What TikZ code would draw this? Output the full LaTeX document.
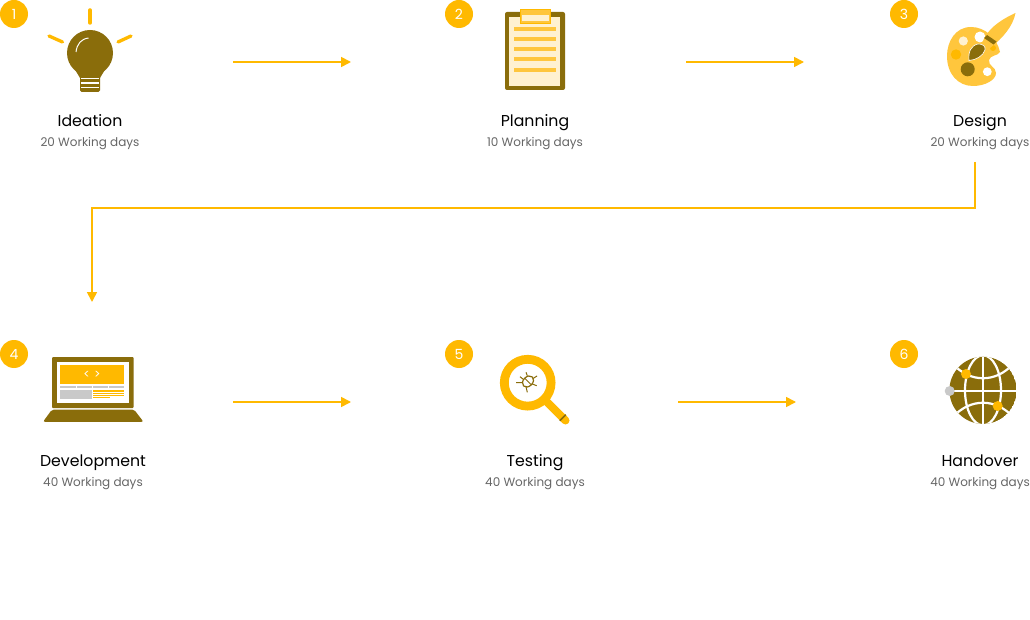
\documentclass[tikz,border=0pt]{standalone}
\usepackage{fontspec}
\setmainfont{Poppins}
\usetikzlibrary{arrows.meta}
\definecolor{amber}{HTML}{FFB900}
\definecolor{brownish}{HTML}{8A6D0B}
\definecolor{paleamber}{HTML}{FFC63D}
\definecolor{cream}{HTML}{FFF1D0}
\definecolor{subgrey}{HTML}{666666}
\definecolor{lgrey}{HTML}{C9C9C9}
\tikzset{
 badge/.style={circle,fill=amber,minimum size=28pt,inner sep=0pt,text=white,font=\fontsize{14}{14}\selectfont},
 titlelabel/.style={inner sep=0pt,anchor=base,text=black,font=\fontsize{15.75}{16}\selectfont},
 sublabel/.style={inner sep=0pt,anchor=base,text=subgrey,font=\fontsize{12}{12}\selectfont},
 flow/.style={amber,line width=1.7pt,-{Triangle[length=10pt,width=10pt]}},
}
\begin{document}
\begin{tikzpicture}[x=1pt,y=-1pt]
\useasboundingbox (0,0) rectangle (1030,620);
\fill[white] (0,0) rectangle (1030,620);
% badges
\node[badge] (b1) at (14,14) {1};
\node[badge] (b2) at (459,14) {2};
\node[badge] (b3) at (904,14) {3};
\node[badge] (b4) at (14,354) {4};
\node[badge] (b5) at (459,354) {5};
\node[badge] (b6) at (904,354) {6};
% labels
\node[titlelabel] (t1) at (90,126.6) {Ideation};
\node[sublabel] (s1) at (90,146.5) {20 Working days};
\node[titlelabel] (t2) at (535,126.6) {Planning};
\node[sublabel] (s2) at (535,146.5) {10 Working days};
\node[titlelabel] (t3) at (980,126.6) {Design};
\node[sublabel] (s3) at (980,146.5) {20 Working days};
\node[titlelabel] (t4) at (93,466) {Development};
\node[sublabel] (s4) at (93,486) {40 Working days};
\node[titlelabel] (t5) at (535,466) {Testing};
\node[sublabel] (s5) at (535,486) {40 Working days};
\node[titlelabel] (t6) at (980,466) {Handover};
\node[sublabel] (s6) at (980,486) {40 Working days};
% connectors
\coordinate (a1s) at (233,62); \coordinate (a1e) at (351,62);
\coordinate (a2s) at (686,62); \coordinate (a2e) at (804,62);
\coordinate (a4s) at (233,402); \coordinate (a4e) at (351,402);
\coordinate (a5s) at (678,402); \coordinate (a5e) at (796,402);
\coordinate (d0) at (975,162); \coordinate (d1) at (975,208); \coordinate (d2) at (92,208); \coordinate (d3) at (92,302);
\draw[flow] (a1s) -- (a1e);
\draw[flow] (a2s) -- (a2e);
\draw[flow] (a4s) -- (a4e);
\draw[flow] (a5s) -- (a5e);
\draw[flow] (d0) -- (d1) -- (d2) -- (d3);
% bulb
\draw[amber,line width=3.5pt,line cap=round] (90,10) -- (90,23);
\draw[amber,line width=3.3pt,line cap=round] (49,36) -- (62.5,42);
\draw[amber,line width=3.3pt,line cap=round] (118,42) -- (131,36);
\fill[brownish] (90,53) circle (23);
\fill[brownish] (74,68) -- (106,68) -- (100,78) -- (80,78) -- cycle;
\fill[brownish,rounded corners=1.5pt] (80,76) rectangle (100,92);
\fill[white] (81,77.7) rectangle (99.3,79);
\fill[white] (81,82.5) rectangle (99.3,84);
\fill[white] (81,86.7) rectangle (99.3,88);
\draw[white,line width=1pt] (76,52) .. controls (77,44) and (81,39) .. (88.5,38);
% clipboard
\fill[brownish,rounded corners=2pt] (505,12) rectangle (565,90);
\fill[cream] (509,17) rectangle (560,86);
\foreach \yy in {29,39,49,59,70}{\fill[paleamber] (514,\yy-2) rectangle (556,\yy+2);}
\fill[paleamber] (520,9) rectangle (551,24);
\fill[cream] (522,15) rectangle (549,21);
\draw[amber,line width=.8pt] (520.4,9.4) rectangle (550.6,23.6);
% palette
\fill[paleamber] (1000,52) .. controls (997,38) and (985,27) .. (971,27)
  .. controls (955,27) and (947,42) .. (947,56)
  .. controls (947,74) and (958,86) .. (973,86)
  .. controls (985,86) and (996,80) .. (996,73)
  .. controls (996,67) and (988,66) .. (989,60)
  .. controls (990,55) and (998,56) .. (1000,52) -- cycle;
\fill[cream] (963.3,41) circle (4.6);
\fill[white] (980,37) circle (5.5);
\fill[amber] (956,54.5) circle (5.2);
\fill[brownish] (967.7,69.3) circle (7);
\fill[white] (987.3,71.7) circle (4.4);
\fill[amber] (993,48) circle (3);
\fill[paleamber] (982,43.5) .. controls (986,30) and (1000,20) .. (1015.5,13)
  .. controls (1013,26) and (1003,38) .. (990,48) -- cycle;
\fill[brownish] (987,35) -- (996.5,41.5) -- (993.5,44.5) -- (984,38) -- cycle;
\filldraw[brownish,draw=white,line width=.6pt] (969,60.5) .. controls (968,52) and (971,45.5) .. (978,44)
  .. controls (983,43.5) and (986,47) .. (985,50)
  .. controls (983,56) and (976,60) .. (969,60.5) -- cycle;
% laptop
\fill[brownish,rounded corners=1pt] (52,357) rectangle (133.5,408);
\fill[white] (57,362) rectangle (128.5,403);
\fill[amber] (60,365) rectangle (124,384);
\node[inner sep=0pt,text=white,font=\fontsize{12}{12}\selectfont] (code) at (92,375) {<\,\,>};
\foreach \xa/\xb in {60/75.5,77/92,93/108,109/124}{\fill[lgrey] (\xa,386.3) rectangle (\xb,388.4);}
\fill[lgrey] (60,390) rectangle (92,399);
\foreach \yy in {390.4,392.7,394.9}{\fill[amber] (93,\yy) rectangle (124,\yy+1.2);}
\fill[amber] (93,396.8) rectangle (110,398);
\fill[brownish,rounded corners=2pt] (52,409.5) -- (134,409.5) -- (143.5,421.8) -- (43,421.8) -- cycle;
% magnifier
\draw[amber,line width=8.8pt] (527.7,382.7) circle (23.4);
\draw[amber,line width=8pt,line cap=round] (546,401) -- (565.5,420.5);
\draw[brownish,line width=1.6pt] (559.8,420.8) -- (565.8,414.8);
\begin{scope}[shift={(528,381.5)},rotate=-45]
 \draw[brownish,line width=1.2pt] (0,0) ellipse (4.7 and 6.3);
 \draw[brownish,line width=1pt] (-4.7,0) -- (4.7,0);
\end{scope}
\draw[brownish,line width=1pt] (516,382.7) -- (522.7,382.7) (520,376.7) -- (523.3,379.3)
  (527.3,392.3) -- (526,386.7) (536.7,385.7) -- (532.3,384) (526,372.3) -- (527.3,375.7) (537,376) -- (533,378.5);
% globe
\begin{scope}
 \clip (983,390.3) circle (33.6);
 \fill[brownish] (983,390.3) circle (33.6);
 \draw[white,line width=2.2pt] (983,355) -- (983,426) (948,391) -- (1018,391);
 \draw[white,line width=2.2pt] (983,390.3) ellipse (18 and 35);
 \draw[white,line width=2.2pt] (953,364) .. controls (970,383) and (996,383) .. (1013,364);
 \draw[white,line width=2.2pt] (953,417) .. controls (970,398) and (996,398) .. (1013,417);
\end{scope}
\fill[amber] (966,374) circle (5);
\fill[amber] (997.7,406) circle (5);
\fill[lgrey] (949.7,391) circle (5);
\end{tikzpicture}
\end{document}
